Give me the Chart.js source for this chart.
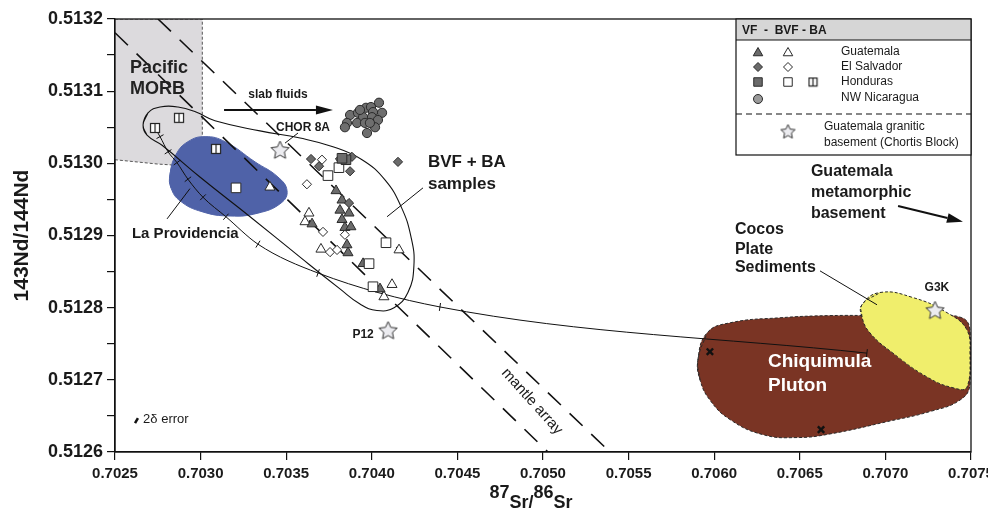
<!DOCTYPE html>
<html>
<head>
<meta charset="utf-8">
<script src="https://cdn.jsdelivr.net/npm/chart.js@4/dist/chart.umd.min.js"></script>
<style>
  html, body { margin: 0; padding: 0; background: #fff; }
</style>
</head>
<body>
<canvas id="grafico" width="988" height="511"></canvas>
<script>
// x = 87Sr/86Sr, y = 143Nd/144Nd

// VF / BVF / BA samples
const nicaragua = [[0.704042,0.513084],[0.703966,0.513077],[0.703995,0.513078],[0.703873,0.513067],[0.703919,0.513070],
  [0.704007,0.513071],[0.704060,0.513070],[0.703949,0.513064],[0.704001,0.513064],[0.704036,0.513060],[0.703855,0.513056],
  [0.703914,0.513056],[0.703960,0.513056],[0.703843,0.513050],[0.704019,0.513050],[0.703972,0.513042],[0.703989,0.513056],
  [0.703931,0.513074]];
const guatFilled = [[0.703791,0.512962],[0.703826,0.512949],[0.703814,0.512935],[0.703867,0.512931],[0.703826,0.512922],
  [0.703843,0.512911],[0.703878,0.512912],[0.703855,0.512887],[0.703861,0.512876],[0.703949,0.512861],[0.704048,0.512826],
  [0.703651,0.512916]];
const guatOpen = [[0.703633,0.512931],[0.703610,0.512919],[0.703703,0.512881],[0.704159,0.512880],[0.704118,0.512832],
  [0.704071,0.512815],[0.703405,0.512967]];
const salvFilled = [[0.703645,0.513006],[0.703692,0.512996],[0.703814,0.513006],[0.703884,0.513009],[0.703873,0.512989],
  [0.704153,0.513002],[0.703867,0.512945]];
const salvOpen = [[0.703709,0.513005],[0.703621,0.512971],[0.703715,0.512905],[0.703843,0.512901],[0.703756,0.512877],
  [0.703797,0.512880]];
const hondFilled = [[0.703849,0.513005],[0.703826,0.513007]];
const hondOpen = [[0.703808,0.512994],[0.703744,0.512983],[0.704083,0.512890],[0.703984,0.512861],[0.704007,0.512829],
  [0.703207,0.512966]];
const hondSplit = [[0.702734,0.513049],[0.702874,0.513063],[0.703090,0.513020]];

// basement samples: CHOR 8A, P12, G3K
const granite = [[0.703464,0.513019],[0.704095,0.512769],[0.707290,0.512797]];
const plutonX = [[0.705975,0.512739],[0.706624,0.512631]];

// mixing curve MORB -> Chiquimula
const mixing = [[0.702734,0.513049],[0.702763,0.513037],[0.702810,0.513016],[0.702862,0.513001],[0.702926,0.512978],
  [0.703014,0.512953],[0.703148,0.512926],[0.703335,0.512888],[0.703686,0.512848],[0.704398,0.512801],[0.706892,0.512737]];

// mantle array
const mantleLow = [[0.7025,0.513181],[0.705029,0.5126]];
const mantleHigh = [[0.702751,0.5132],[0.705391,0.5126]];

// fields
const morbField = [[0.7025,0.5132],[0.70301,0.5132],[0.70301,0.512995],[0.70275,0.512999],[0.7025,0.513005]];
const provField = [[0.702821,0.512984],[0.702856,0.513012],[0.702926,0.513030],[0.703026,0.513037],[0.703143,0.513030],
  [0.703318,0.513002],[0.703452,0.512981],[0.703505,0.512962],[0.703470,0.512945],[0.703335,0.512931],[0.703172,0.512927],
  [0.703008,0.512933],[0.702880,0.512948],[0.702827,0.512966]];
const bvfField = [[0.702664,0.513053],[0.702693,0.513070],[0.702763,0.513078],[0.702868,0.513078],[0.702973,0.513071],
  [0.703084,0.513059],[0.703347,0.513045],[0.703581,0.513035],[0.703773,0.513023],[0.703943,0.513005],[0.704077,0.512977],
  [0.704171,0.512940],[0.704229,0.512898],[0.704246,0.512858],[0.704211,0.512821],[0.704130,0.512800],[0.704030,0.512796],
  [0.703931,0.512805],[0.703814,0.512826],[0.703581,0.512870],[0.703289,0.512926],[0.702996,0.512981],[0.702775,0.513025],
  [0.702687,0.513039]];
const cocosField = [[0.706863,0.512804],[0.706968,0.512821],[0.707161,0.512814],[0.707360,0.512793],[0.707477,0.512769],
  [0.707494,0.512737],[0.707477,0.512690],[0.707395,0.512689],[0.707243,0.512704],[0.707044,0.512737],[0.706910,0.512765],
  [0.706863,0.512787]];
const chiqField = [[0.705905,0.512728],[0.705958,0.512765],[0.706092,0.512779],[0.706384,0.512786],[0.706676,0.512789],
  [0.706968,0.512789],[0.707260,0.512789],[0.707447,0.512786],[0.707494,0.512769],[0.707494,0.512693],[0.707436,0.512672],
  [0.707260,0.512656],[0.707009,0.512642],[0.706676,0.512625],[0.706484,0.512620],[0.706285,0.512624],[0.706092,0.512645],
  [0.705975,0.512672],[0.705917,0.512700]];

// annotations (text, x, y, font, align, colour)
const texts = [
  ['Pacific', 0.702588, 0.513132, 'bold 18px', 'left', '#222'],
  ['MORB', 0.702588, 0.513103, 'bold 18px', 'left', '#222'],
  ['slab fluids', 0.703452, 0.513095, 'bold 12px', 'center', '#1a1a1a'],
  ['CHOR 8A', 0.703598, 0.513049, 'bold 12px', 'center', '#1a1a1a'],
  ['BVF + BA', 0.704328, 0.513001, 'bold 17px', 'left', '#1a1a1a'],
  ['samples', 0.704328, 0.512971, 'bold 17px', 'left', '#1a1a1a'],
  ['La Providencia', 0.702599, 0.512902, 'bold 15px', 'left', '#1a1a1a'],
  ['Guatemala', 0.706565, 0.512988, 'bold 16px', 'left', '#1a1a1a'],
  ['metamorphic', 0.706565, 0.512959, 'bold 16px', 'left', '#1a1a1a'],
  ['basement', 0.706565, 0.512931, 'bold 16px', 'left', '#1a1a1a'],
  ['Cocos', 0.706121, 0.512908, 'bold 16px', 'left', '#1a1a1a'],
  ['Plate', 0.706121, 0.512881, 'bold 16px', 'left', '#1a1a1a'],
  ['Sediments', 0.706121, 0.512855, 'bold 16px', 'left', '#1a1a1a'],
  ['G3K', 0.707301, 0.512827, 'bold 12px', 'center', '#1a1a1a'],
  ['Chiquimula', 0.706314, 0.512725, 'bold 19px', 'left', '#ffffff'],
  ['Pluton', 0.706314, 0.512692, 'bold 19px', 'left', '#ffffff'],
  ['P12', 0.703949, 0.512762, 'bold 12px', 'center', '#1a1a1a'],
  ['2δ error', 0.702664, 0.512645, '13px', 'left', '#1a1a1a']
];
const leaders = [[0.703569,0.513042,0.703493,0.513028],[0.704299,0.512966,0.704089,0.512926],
  [0.702804,0.512923,0.702938,0.512965],[0.706618,0.512851,0.706951,0.512804]];
const arrows = [[0.703137,0.513074,0.703773,0.513074],[0.707074,0.512941,0.707453,0.512919]];
const errBar = [0.702617,0.512640,0.702634,0.512647];
const legendRows = ['Guatemala', 'El Salvador', 'Honduras', 'NW Nicaragua'];

const FAMILY = "'Liberation Sans', Arial, Helvetica, sans-serif";
const GRAY = '#6b6b6b', EDGE = '#2a2a2a';

Chart.defaults.font.family = FAMILY;
Chart.defaults.color = '#1a1a1a';

const P = a => a.map(([x, y]) => ({x, y}));
// closed ring: wrap neighbours so the smooth curve closes cleanly
const ring = a => { const p = P(a); return [p[p.length - 1], ...p, p[0], p[1]]; };

function starImg(r) {
    const s = Math.ceil(r * 2 + 4);
    const c = document.createElement('canvas');
    c.width = c.height = s;
    const g = c.getContext('2d');
    g.beginPath();
    for (let i = 0; i < 10; i++) {
        const a = -Math.PI / 2 + i * Math.PI / 5;
        const rr = i % 2 ? r * 0.48 : r;
        g.lineTo(s / 2 + rr * Math.cos(a), s / 2 + 1 + rr * Math.sin(a));
    }
    g.closePath();
    g.fillStyle = '#ececf0';
    g.fill();
    g.strokeStyle = '#333';
    g.lineWidth = 1;
    g.stroke();
    return c;
}

function splitImg(s) {
    const c = document.createElement('canvas');
    c.width = c.height = s + 2;
    const g = c.getContext('2d');
    g.fillStyle = '#fff';
    g.fillRect(1, 1, s, s);
    g.strokeStyle = '#222';
    g.lineWidth = 1.2;
    g.strokeRect(1.5, 1.5, s - 1, s - 1);
    g.beginPath();
    g.moveTo(c.width / 2, 1.5);
    g.lineTo(c.width / 2, s + 0.5);
    g.stroke();
    return c;
}

const STAR = starImg(9.5), STAR_S = starImg(7.5), SPLIT = splitImg(10), SPLIT_S = splitImg(9);

function tickRotation(ctx) {
    if (ctx.dataIndex === undefined) return 0;
    const d = ctx.dataset.data, i = ctx.dataIndex;
    const a = d[Math.max(i - 1, 0)], b = d[Math.min(i + 1, d.length - 1)];
    const sx = ctx.chart.scales.x, sy = ctx.chart.scales.y;
    const dx = sx.getPixelForValue(b.x) - sx.getPixelForValue(a.x);
    const dy = sy.getPixelForValue(b.y) - sy.getPixelForValue(a.y);
    return Math.atan2(dy, dx) * 180 / Math.PI + 90;
}

function pts(data, style, radius, fill, order) {
    return {
        type: 'scatter', data: P(data), pointStyle: style, pointRadius: radius,
        pointBackgroundColor: fill, pointBorderColor: EDGE, pointBorderWidth: 1, order: order
    };
}

const datasets = [
    { type: 'line', data: P(morbField), fill: 'shape', backgroundColor: '#dcdadd', borderColor: '#555',
      borderDash: [3, 2], borderWidth: 1, pointRadius: 0, tension: 0, order: 30 },
    { type: 'line', data: ring(provField), fill: 'shape', backgroundColor: '#4f62a8', borderColor: '#4f62a8',
      borderWidth: 1, pointRadius: 0, tension: 0.45, order: 29 },
    { type: 'line', data: ring(chiqField), fill: 'shape', backgroundColor: '#7a3424', borderColor: '#2a2a2a',
      borderDash: [3, 2], borderWidth: 1, pointRadius: 0, tension: 0.45, order: 28 },
    { type: 'line', data: ring(cocosField), fill: 'shape', backgroundColor: '#f0ee6c', borderColor: '#2a2a2a',
      borderDash: [3, 2], borderWidth: 1, pointRadius: 0, tension: 0.45, order: 27 },
    { type: 'line', data: P(mantleLow), borderColor: '#111', borderWidth: 1.6, borderDash: [18, 12],
      pointRadius: 0, order: 26 },
    { type: 'line', data: P(mantleHigh), borderColor: '#111', borderWidth: 1.6, borderDash: [18, 12],
      pointRadius: 0, order: 26 },
    { type: 'line', data: ring(bvfField), borderColor: '#111', borderWidth: 1.1, pointRadius: 0,
      tension: 0.45, order: 25 },
    { type: 'line', data: P(mixing), borderColor: '#111', borderWidth: 1, cubicInterpolationMode: 'monotone',
      pointStyle: 'line', pointRadius: 4, pointBorderColor: '#111', pointBorderWidth: 1,
      rotation: tickRotation, order: 24 },
    pts(nicaragua, 'circle', 4.6, '#6e6e6e', 9),
    pts(guatOpen, 'triangle', 5.8, '#ffffff', 8),
    pts(guatFilled, 'triangle', 5.8, GRAY, 7),
    pts(salvOpen, 'rectRot', 4.6, '#ffffff', 6),
    pts(salvFilled, 'rectRot', 4.6, GRAY, 5),
    pts(hondOpen, 'rect', 6.8, '#ffffff', 4),
    pts(hondFilled, 'rect', 6.8, GRAY, 3),
    pts(hondSplit, SPLIT, 6, '#ffffff', 2),
    pts(granite, STAR, 9, '#ececf0', 1),
    { type: 'scatter', data: P(plutonX), pointStyle: 'crossRot', pointRadius: 4.5,
      pointBorderColor: '#111', pointBorderWidth: 2.4, order: 0 }
];

function drawArrow(ctx, x1, y1, x2, y2, len, half, width) {
    const a = Math.atan2(y2 - y1, x2 - x1);
    const bx = x2 - len * Math.cos(a), by = y2 - len * Math.sin(a);
    ctx.lineWidth = width;
    ctx.beginPath();
    ctx.moveTo(x1, y1);
    ctx.lineTo(bx, by);
    ctx.stroke();
    ctx.beginPath();
    ctx.moveTo(x2, y2);
    ctx.lineTo(bx + half * Math.sin(a), by - half * Math.cos(a));
    ctx.lineTo(bx - half * Math.sin(a), by + half * Math.cos(a));
    ctx.closePath();
    ctx.fill();
}

function sym(ctx, style, r, x, y, fill) {
    if (!Chart.helpers || !Chart.helpers.drawPoint) return;
    ctx.fillStyle = fill;
    ctx.strokeStyle = EDGE;
    ctx.lineWidth = 1;
    Chart.helpers.drawPoint(ctx, {pointStyle: style, radius: r, borderWidth: 1, rotation: 0}, x, y);
}

const notes = {
    id: 'notes',
    afterDatasetsDraw(chart) {
        const {ctx, scales: {x, y}} = chart;
        const px = v => x.getPixelForValue(v), py = v => y.getPixelForValue(v);
        ctx.save();
        ctx.strokeStyle = '#111';
        ctx.fillStyle = '#111';
        ctx.lineWidth = 1;
        leaders.forEach(([x1, y1, x2, y2]) => {
            ctx.beginPath();
            ctx.moveTo(px(x1), py(y1));
            ctx.lineTo(px(x2), py(y2));
            ctx.stroke();
        });
        drawArrow(ctx, px(arrows[0][0]), py(arrows[0][1]), px(arrows[0][2]), py(arrows[0][3]), 17, 4.5, 2);
        drawArrow(ctx, px(arrows[1][0]), py(arrows[1][1]), px(arrows[1][2]), py(arrows[1][3]), 16, 5, 2);
        ctx.lineWidth = 2.5;
        ctx.beginPath();
        ctx.moveTo(px(errBar[0]), py(errBar[1]));
        ctx.lineTo(px(errBar[2]), py(errBar[3]));
        ctx.stroke();

        ctx.textBaseline = 'middle';
        texts.forEach(([t, tx, ty, f, al, col]) => {
            ctx.font = f + ' ' + FAMILY;
            ctx.textAlign = al;
            ctx.fillStyle = col;
            ctx.fillText(t, px(tx), py(ty));
        });
        // mantle array label along the lines
        ctx.save();
        ctx.translate(px(0.704936), py(0.512670));
        ctx.rotate(48 * Math.PI / 180);
        ctx.font = '15px ' + FAMILY;
        ctx.textAlign = 'center';
        ctx.fillStyle = '#1a1a1a';
        ctx.fillText('mantle array', 0, 0);
        ctx.restore();
        ctx.restore();
    },
    afterDraw(chart) {
        const {ctx, chartArea: a} = chart;
        ctx.save();
        // frame
        ctx.strokeStyle = '#111';
        ctx.lineWidth = 1.3;
        ctx.strokeRect(a.left, a.top, a.right - a.left, a.bottom - a.top);

        // legend box
        const L = 736, R = a.right, T = a.top, B = 155;
        ctx.fillStyle = '#fff';
        ctx.fillRect(L, T, R - L, B - T);
        ctx.fillStyle = '#d6d6d6';
        ctx.fillRect(L, T, R - L, 21);
        ctx.lineWidth = 1.2;
        ctx.strokeRect(L, T, R - L, B - T);
        ctx.beginPath();
        ctx.moveTo(L, T + 21);
        ctx.lineTo(R, T + 21);
        ctx.stroke();
        ctx.fillStyle = '#1a1a1a';
        ctx.textBaseline = 'middle';
        ctx.textAlign = 'left';
        ctx.font = 'bold 12px ' + FAMILY;
        ctx.fillText('VF  -  BVF - BA', L + 6, T + 12);
        const rowsY = [52, 67, 82, 98];
        ctx.font = '12px ' + FAMILY;
        legendRows.forEach((name, i) => {
            ctx.fillStyle = '#1a1a1a';
            ctx.fillText(name, 841, rowsY[i]);
        });
        sym(ctx, 'triangle', 5.5, 758, rowsY[0] + 1, GRAY);
        sym(ctx, 'triangle', 5.5, 788, rowsY[0] + 1, '#fff');
        sym(ctx, 'rectRot', 4.5, 758, rowsY[1], GRAY);
        sym(ctx, 'rectRot', 4.5, 788, rowsY[1], '#fff');
        sym(ctx, 'rect', 6, 758, rowsY[2], GRAY);
        sym(ctx, 'rect', 6, 788, rowsY[2], '#fff');
        sym(ctx, SPLIT_S, 5, 813, rowsY[2], '#fff');
        sym(ctx, 'circle', 4.5, 758, rowsY[3] + 1, '#9a9a9a');
        ctx.strokeStyle = '#111';
        ctx.lineWidth = 1.2;
        ctx.setLineDash([6, 4]);
        ctx.beginPath();
        ctx.moveTo(L, 114);
        ctx.lineTo(R, 114);
        ctx.stroke();
        ctx.setLineDash([]);
        sym(ctx, STAR_S, 7, 788, 131, '#ececf0');
        ctx.fillStyle = '#1a1a1a';
        ctx.font = '12px ' + FAMILY;
        ctx.fillText('Guatemala granitic', 824, 127);
        ctx.fillText('basement (Chortis Block)', 824, 143);

        // x axis title with superscripts
        const parts = [['87', true], ['Sr', false], ['/', false], ['86', true], ['Sr', false]];
        ctx.font = 'bold 18px ' + FAMILY;
        const w = parts.reduce((s, p) => s + ctx.measureText(p[0]).width, 0);
        let cx = (a.left + a.right) / 2 - 12 - w / 2;
        ctx.textBaseline = 'alphabetic';
        parts.forEach(([t, sup]) => {
            ctx.fillText(t, cx, sup ? 498 : 508);
            cx += ctx.measureText(t).width;
        });
        ctx.restore();
    }
};

window.onload = function() {
    const ctx = document.getElementById('grafico').getContext('2d');
    new Chart(ctx, {
        type: 'scatter',
        data: { datasets: datasets },
        options: {
            responsive: false,
            animation: false,
            events: [],
            layout: { padding: { top: 19, right: 17, left: 0, bottom: 0 } },
            plugins: { legend: { display: false }, tooltip: { enabled: false } },
            scales: {
                x: {
                    type: 'linear', min: 0.7025, max: 0.7075,
                    afterFit: s => { s.height = 59; s.paddingLeft = 0; s.paddingRight = 0; },
                    ticks: {
                        stepSize: 0.0005, autoSkip: false, maxRotation: 0, padding: 5, color: '#1a1a1a',
                        font: { size: 15, weight: 'bold' },
                        callback: v => Number(v).toFixed(4)
                    },
                    grid: { drawOnChartArea: false, tickLength: 8, color: '#111', lineWidth: 1.2 },
                    border: { color: '#111', width: 1.3 }
                },
                y: {
                    type: 'linear', min: 0.5126, max: 0.5132,
                    afterFit: s => { s.width = 115; },
                    ticks: {
                        stepSize: 0.00005, autoSkip: false, padding: 4, color: '#1a1a1a',
                        font: { size: 18, weight: 'bold' },
                        callback: v => (Math.round(v / 0.00005) % 2 === 0 ? Number(v).toFixed(4) : '')
                    },
                    grid: { drawOnChartArea: false, tickLength: 8, color: '#111', lineWidth: 1.2 },
                    border: { color: '#111', width: 1.3 },
                    title: { display: true, text: '143Nd/144Nd', color: '#1a1a1a',
                             font: { size: 21, weight: 'bold' }, padding: { top: 10, bottom: 0 } }
                }
            }
        },
        plugins: [notes]
    });
};
</script>
</body>
</html>
